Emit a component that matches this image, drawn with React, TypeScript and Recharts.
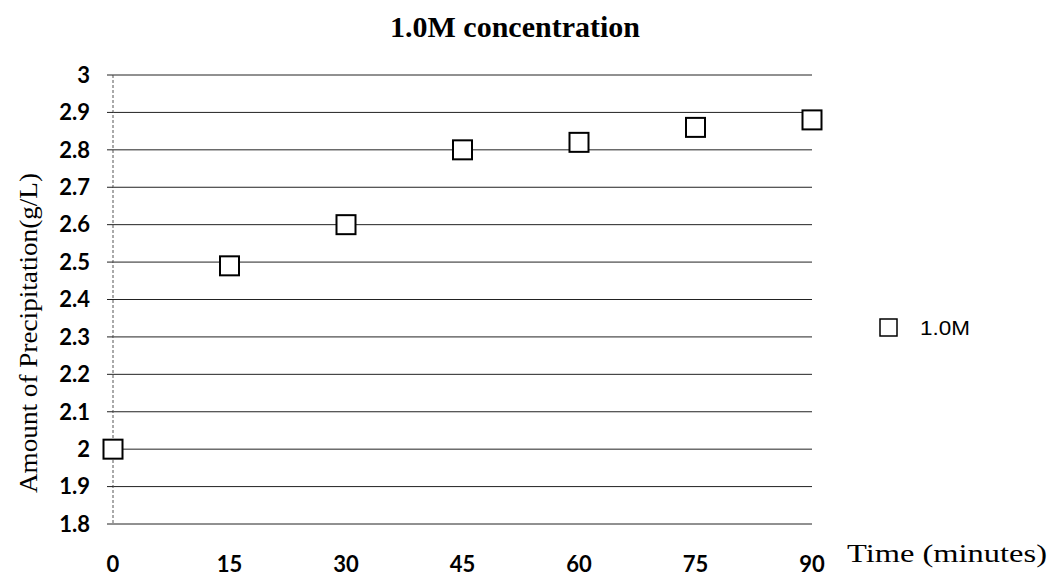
import React from "react";
import { ScatterChart, Scatter, XAxis, YAxis, CartesianGrid } from "recharts";

const times = [0, 15, 30, 45, 60, 75, 90];
const precipitation = [2.0, 2.49, 2.6, 2.8, 2.82, 2.86, 2.88];
const xTicks = [0, 15, 30, 45, 60, 75, 90];
const yTicks = [1.8, 1.9, 2.0, 2.1, 2.2, 2.3, 2.4, 2.5, 2.6, 2.7, 2.8, 2.9, 3.0];
const seriesName = "1.0M";
const title = "1.0M concentration";
const xLabel = "Time (minutes)";
const yLabel = "Amount of Precipitation(g/L)";

const data = times.map((t, i) => ({ x: t, y: precipitation[i] }));

const tickFont = { fontFamily: "Lato, 'Liberation Sans', sans-serif", fontWeight: 700, fontSize: 22, fill: "#000" };

const SquareShape = (props: any) => {
  const { cx, cy } = props;
  return <rect x={cx - 9.5} y={cy - 9.5} width={19} height={19} fill="#fff" stroke="#000" strokeWidth={2} />;
};

export default function App() {
  return (
    <div style={{ position: "absolute", left: 0, top: 0, width: 1054, height: 582, background: "#fff" }}>
      <ScatterChart width={1054} height={582} margin={{ top: 75, right: 242, bottom: 0, left: 0 }}>
        <CartesianGrid horizontal={true} vertical={false} stroke="#222" strokeWidth={1} />
        <XAxis
          type="number"
          dataKey="x"
          domain={[0, 90]}
          ticks={xTicks}
          height={58}
          axisLine={false}
          tickLine={false}
          tickSize={0}
          tickMargin={32}
          tick={tickFont}
        />
        <YAxis
          type="number"
          dataKey="y"
          domain={[1.8, 3.0]}
          ticks={yTicks}
          width={113}
          axisLine={{ stroke: "#555", strokeDasharray: "3 2" }}
          tickLine={{ stroke: "#222" }}
          tickSize={6}
          tickMargin={17}
          tick={tickFont}
          tickFormatter={(v: number) => String(Number(v.toFixed(1)))}
        />
        <Scatter name={seriesName} data={data} shape={SquareShape} isAnimationActive={false} />
      </ScatterChart>
      <svg width={1054} height={582} style={{ position: "absolute", left: 0, top: 0, pointerEvents: "none" }}>
        <text x={515} y={27} textAnchor="middle" dominantBaseline="central" fontFamily="'Liberation Serif', serif" fontWeight={700} fontSize={29} textLength={250} lengthAdjust="spacingAndGlyphs">{title}</text>
        <text x={847} y={562} fontFamily="'Liberation Serif', serif" fontSize={26} textLength={200} lengthAdjust="spacingAndGlyphs">{xLabel}</text>
        <text x={28} y={333} transform="rotate(-90 28 333)" textAnchor="middle" dominantBaseline="central" fontFamily="'Liberation Serif', serif" fontSize={26} textLength={320} lengthAdjust="spacingAndGlyphs">{yLabel}</text>
        <rect x={880} y={319} width={17} height={17} fill="#fff" stroke="#000" strokeWidth={1.5} />
        <text x={920} y={328} dominantBaseline="central" fontFamily="'Liberation Sans', Arial, sans-serif" fontSize={20} textLength={50} lengthAdjust="spacingAndGlyphs">{seriesName}</text>
      </svg>
    </div>
  );
}
